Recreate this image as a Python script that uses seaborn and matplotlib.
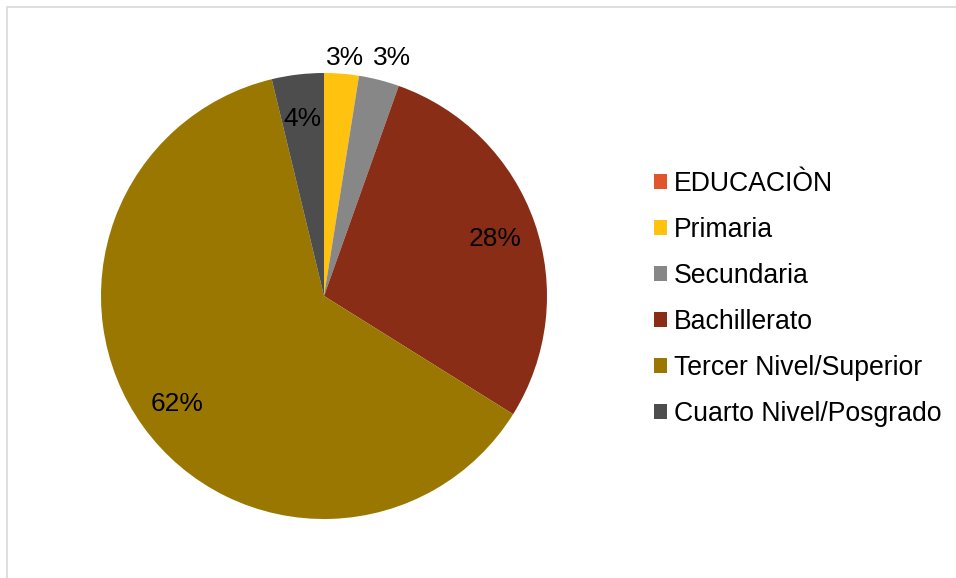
import numpy as np
import matplotlib
matplotlib.use("Agg")
import matplotlib.pyplot as plt
from matplotlib.patches import Patch, Rectangle
import seaborn as sns

# Education level of respondents (counts)
categories = ["EDUCACIÒN", "Primaria", "Secundaria", "Bachillerato",
              "Tercer Nivel/Superior", "Cuarto Nivel/Posgrado"]
counts = [0, 6, 7, 68, 149, 9]
colors = ["#E0552B", "#FFC20E", "#878787", "#8A2D17", "#9A7700", "#4D4D4D"]

sns.set_theme(style="white")
plt.rcParams["font.family"] = ["Liberation Sans", "DejaVu Sans"]
plt.rcParams["text.color"] = "black"

W, H = 956, 578
fig = plt.figure(figsize=(W / 100, H / 100), dpi=100)
fig.patch.set_facecolor("white")

# thin light frame around the chart area
fig.add_artist(Rectangle((7 / W, -0.05), 1.2, 1 - 7 / H + 0.05,
                         transform=fig.transFigure, fill=False,
                         edgecolor="#D9D9D9", linewidth=1.2))

cx, cy, r = 324, 296, 223
ax = fig.add_axes([(cx - r) / W, (H - cy - r) / H, 2 * r / W, 2 * r / H])

# zero-valued category stays in the legend but is not drawn as a wedge
draw_idx = [i for i, v in enumerate(counts) if v > 0]
vals = [counts[i] for i in draw_idx]
cols = [colors[i] for i in draw_idx]

wedges, texts, autotexts = ax.pie(
    vals, colors=cols, startangle=90, counterclock=False,
    autopct="%1.0f%%", pctdistance=0.81, radius=1,
    wedgeprops=dict(linewidth=0), textprops=dict(fontsize=19, color="black"))
ax.set_xlim(-1, 1)
ax.set_ylim(-1, 1)
ax.set_aspect("equal")
ax.axis("off")

total = sum(vals)
for w, t, v in zip(wedges, autotexts, vals):
    t.set_va("center_baseline")
    # small slices get their labels just outside the rim, on a common row
    if v / total < 0.035:
        ang = np.deg2rad((w.theta1 + w.theta2) / 2)
        d = 1.08 / np.sin(ang)
        t.set_position((1.1 * d * np.cos(ang), d * np.sin(ang)))

handles = [Patch(facecolor=c, edgecolor="none") for c in colors]
leg = fig.legend(handles, categories, loc="center left",
                 bbox_to_anchor=(654 / W, 1 - 299 / H), frameon=False,
                 fontsize=19.2, borderpad=0, borderaxespad=0,
                 handlelength=0.5, handleheight=0.5, handletextpad=0.25,
                 labelspacing=0.755)
for txt in leg.get_texts():
    txt.set_color("black")

fig.savefig("out.png", dpi=100, facecolor="white")
